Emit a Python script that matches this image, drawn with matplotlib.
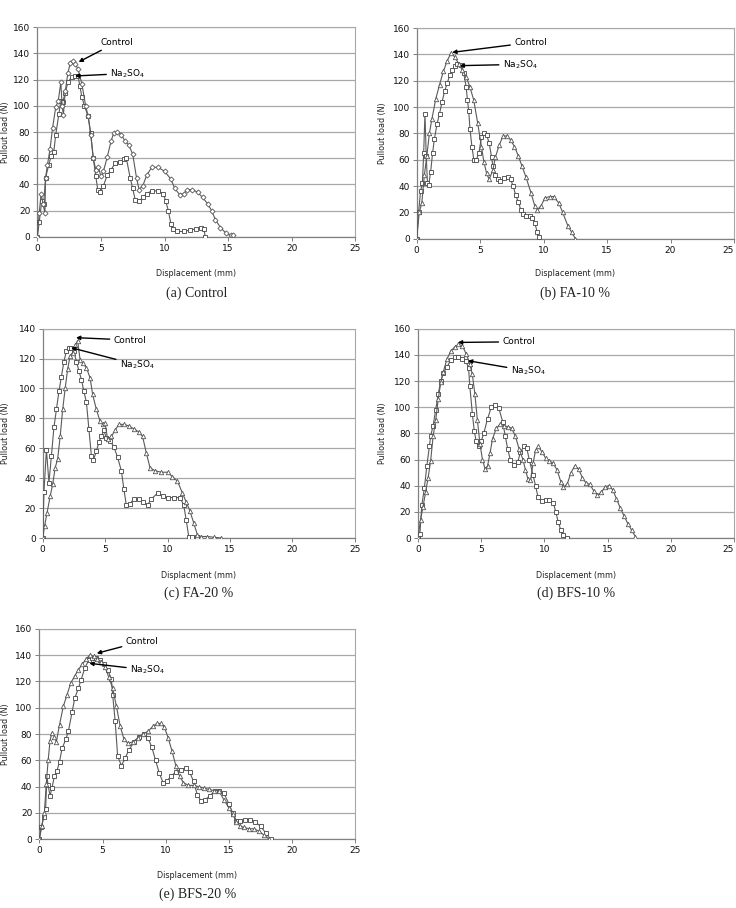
import matplotlib
matplotlib.use("Agg")
import matplotlib.pyplot as plt
import numpy as np

# ---------------- data ----------------
# (a) Control
a_ctrl_x = [0, 0.15, 0.3, 0.45, 0.6, 0.65, 0.8, 1.0, 1.2, 1.45, 1.65, 1.85, 1.95, 2.05, 2.2, 2.4, 2.6, 2.8, 3.0, 3.2, 3.5, 3.8, 4.0, 4.2, 4.4, 4.6, 4.8, 5.0, 5.2, 5.5, 5.8, 6.0, 6.3, 6.6, 6.9, 7.2, 7.5, 7.8, 8.0, 8.3, 8.6, 9.0, 9.5, 10.0, 10.5, 10.8, 11.2, 11.5, 11.8, 12.2, 12.6, 13.0, 13.4, 13.7, 14.0, 14.4, 14.8, 15.2, 15.4]
a_ctrl_y = [0, 18, 33, 25, 18, 45, 55, 67, 83, 99, 104, 118, 100, 93, 111, 125, 133, 134, 132, 128, 117, 100, 92, 78, 60, 51, 53, 46, 50, 61, 73, 79, 80, 78, 73, 70, 63, 45, 36, 39, 47, 53, 53, 50, 44, 37, 32, 33, 36, 36, 34, 30, 25, 20, 13, 7, 3, 1, 1]
a_na_x = [0, 0.15, 0.35, 0.5, 0.65, 0.9, 1.1, 1.3, 1.45, 1.7, 1.85, 2.0, 2.2, 2.4, 2.7, 3.0, 3.2, 3.35, 3.5, 3.7, 4.0, 4.2, 4.4, 4.6, 4.75, 4.95, 5.2, 5.5, 5.8, 6.1, 6.5, 6.8, 7.0, 7.3, 7.5, 7.7, 8.0, 8.3, 8.6, 9.0, 9.5, 9.9, 10.1, 10.3, 10.5, 10.7, 11.0, 11.5, 12.0, 12.5, 12.9, 13.1, 13.2]
a_na_y = [0, 11, 27, 25, 45, 55, 62, 65, 78, 94, 104, 103, 110, 118, 122, 123, 123, 115, 107, 100, 92, 79, 60, 46, 36, 34, 39, 47, 51, 56, 57, 59, 60, 45, 37, 28, 27, 30, 33, 35, 35, 33, 27, 20, 10, 6, 4, 4, 5, 6, 7, 6, 0]

# (b) FA-10 %
b_ctrl_x = [0, 0.2, 0.4, 0.6, 0.8, 1.0, 1.2, 1.5, 1.8, 2.1, 2.4, 2.7, 3.0, 3.3, 3.6, 3.9, 4.2, 4.5, 4.8, 5.1, 5.3, 5.5, 5.7, 6.0, 6.2, 6.5, 6.8, 7.1, 7.4, 7.7, 8.0, 8.3, 8.6, 9.0, 9.3, 9.5, 9.8, 10.1, 10.5, 10.8, 11.2, 11.5, 11.9, 12.2, 12.5]
b_ctrl_y = [0, 20, 27, 48, 63, 80, 91, 106, 117, 127, 135, 141, 138, 133, 128, 123, 115, 105, 88, 70, 58, 50, 45, 52, 62, 71, 78, 78, 75, 70, 63, 55, 47, 35, 25, 22, 25, 31, 32, 32, 27, 20, 10, 5, 0]
b_na_x = [0, 0.15, 0.3, 0.45, 0.55, 0.65, 0.75, 0.85, 0.95, 1.1, 1.25, 1.4, 1.6, 1.8, 2.0, 2.2, 2.4, 2.6, 2.8, 3.0, 3.2, 3.5, 3.7, 3.9, 4.0, 4.1, 4.2, 4.35, 4.5, 4.7, 4.9, 5.1, 5.3, 5.5, 5.7, 5.9, 6.0, 6.2, 6.4, 6.6, 6.9, 7.2, 7.4, 7.6, 7.8, 8.0, 8.2, 8.4, 8.6, 8.9, 9.1, 9.3, 9.5, 9.6]
b_na_y = [0, 20, 36, 42, 65, 95, 63, 42, 41, 51, 65, 76, 87, 95, 104, 112, 118, 124, 128, 131, 133, 132, 126, 115, 105, 97, 83, 70, 60, 60, 65, 77, 80, 79, 73, 62, 55, 48, 45, 44, 46, 47, 45, 40, 33, 28, 22, 19, 17, 17, 16, 12, 5, 1]

# (c) FA-20 %
c_ctrl_x = [0, 0.15, 0.35, 0.6, 0.8, 1.0, 1.2, 1.4, 1.6, 1.8, 2.0, 2.2, 2.4, 2.6, 2.8, 3.0, 3.2, 3.5, 3.8, 4.0, 4.3, 4.6, 4.8, 5.0, 5.2, 5.5, 5.8, 6.1, 6.5, 6.9, 7.3, 7.7, 8.0, 8.3, 8.6, 9.0, 9.5, 10.0, 10.4, 10.8, 11.2, 11.5, 11.8, 12.1, 12.4, 12.7, 13.2, 13.7, 14.3]
c_ctrl_y = [0, 8, 17, 28, 36, 47, 53, 68, 86, 100, 113, 122, 124, 129, 132, 119, 117, 114, 107, 96, 86, 78, 76, 77, 66, 68, 72, 76, 76, 75, 73, 71, 68, 57, 47, 45, 44, 44, 41, 38, 30, 24, 18, 10, 2, 1, 1, 0.5, 0]
c_na_x = [0, 0.1, 0.3, 0.5, 0.7, 0.9, 1.1, 1.3, 1.5, 1.7, 1.9, 2.1, 2.3, 2.5, 2.7, 2.9, 3.1, 3.3, 3.5, 3.7, 3.9, 4.05, 4.3, 4.5, 4.7, 4.9, 5.1, 5.4, 5.7, 6.0, 6.3, 6.5, 6.7, 7.0, 7.3, 7.7, 8.0, 8.4, 8.7, 9.2, 9.6, 10.0, 10.5, 11.0, 11.3, 11.5, 11.7, 12.0, 12.4]
c_na_y = [0, 31, 59, 37, 55, 74, 86, 98, 108, 118, 125, 127, 127, 125, 118, 112, 106, 98, 91, 73, 55, 52, 58, 64, 68, 72, 67, 65, 61, 54, 45, 33, 22, 23, 26, 26, 24, 22, 26, 30, 28, 27, 27, 27, 22, 12, 1, 1, 1]

# (d) BFS-10 %
d_ctrl_x = [0, 0.2, 0.4, 0.6, 0.8, 1.0, 1.2, 1.4, 1.6, 1.8, 2.0, 2.3, 2.6, 2.9, 3.2, 3.5, 3.8, 4.1, 4.3, 4.5, 4.7, 4.9, 5.1, 5.3, 5.5, 5.7, 5.9, 6.2, 6.5, 6.8, 7.1, 7.4, 7.7, 8.0, 8.3, 8.5, 8.7, 8.9, 9.1, 9.3, 9.5, 9.8, 10.1, 10.4, 10.7, 11.0, 11.3, 11.5, 11.8, 12.1, 12.4, 12.7, 13.0, 13.3, 13.6, 13.9, 14.2, 14.5, 14.8, 15.1, 15.4, 15.7, 16.0, 16.3, 16.6, 16.9, 17.2]
d_ctrl_y = [0, 14, 24, 35, 46, 59, 78, 90, 106, 119, 127, 137, 143, 146, 148, 147, 141, 133, 125, 110, 90, 72, 60, 53, 55, 65, 76, 84, 87, 86, 85, 84, 78, 68, 60, 52, 45, 44, 57, 67, 70, 66, 61, 59, 57, 52, 43, 39, 41, 50, 55, 53, 46, 42, 41, 36, 33, 35, 39, 40, 37, 30, 23, 17, 11, 6, 1]
d_na_x = [0, 0.15, 0.3, 0.5, 0.7, 0.9, 1.0, 1.2, 1.4, 1.6, 1.8, 2.0, 2.3, 2.6, 2.9, 3.2, 3.5, 3.8, 4.0, 4.1, 4.3, 4.45, 4.6, 4.8, 5.0, 5.2, 5.5, 5.8, 6.1, 6.4, 6.7, 6.9, 7.1, 7.3, 7.6, 7.9, 8.1, 8.4, 8.6, 8.8, 9.1, 9.3, 9.5, 9.8, 10.1, 10.4, 10.7, 10.9, 11.1, 11.3, 11.5, 11.8]
d_na_y = [0, 3, 25, 38, 55, 70, 78, 86, 98, 110, 120, 126, 131, 136, 138, 138, 137, 135, 130, 116, 95, 82, 74, 70, 74, 80, 91, 100, 102, 99, 89, 78, 68, 60, 56, 58, 66, 70, 69, 60, 48, 40, 31, 28, 29, 29, 27, 20, 12, 6, 2, 0]

# (e) BFS-20 %
e_ctrl_x = [0, 0.2, 0.4, 0.55, 0.7, 0.85, 1.0, 1.2, 1.35, 1.6, 1.9, 2.2, 2.5, 2.8, 3.1, 3.4, 3.7, 4.0, 4.3, 4.6, 4.9, 5.2, 5.5, 5.8, 6.1, 6.4, 6.7, 7.0, 7.4, 7.8, 8.2, 8.6, 9.0, 9.3, 9.6, 9.9, 10.2, 10.5, 10.8, 11.1, 11.4, 11.8, 12.2, 12.6, 13.0, 13.4, 13.8, 14.2, 14.6, 15.0, 15.3, 15.6, 15.9, 16.2, 16.6, 17.0, 17.4, 17.8, 18.2]
e_ctrl_y = [0, 10, 20, 42, 60, 75, 81, 78, 74, 87, 101, 110, 119, 124, 129, 133, 137, 140, 139, 137, 135, 131, 123, 115, 101, 86, 76, 73, 74, 77, 80, 82, 86, 88, 88, 85, 77, 67, 56, 48, 43, 41, 41, 40, 39, 38, 37, 37, 30, 24, 19, 13, 10, 9, 8, 8, 6, 3, 0]
e_na_x = [0, 0.15, 0.35, 0.5, 0.6, 0.7, 0.85, 1.0, 1.2, 1.4, 1.6, 1.8, 2.1, 2.3, 2.6, 2.8, 3.1, 3.3, 3.6, 3.9, 4.2, 4.5, 4.8, 5.1, 5.4, 5.7, 5.8, 6.0, 6.2, 6.5, 6.8, 7.1, 7.5, 7.9, 8.3, 8.6, 8.9, 9.2, 9.5, 9.8, 10.1, 10.4, 10.8, 11.2, 11.6, 11.9, 12.2, 12.5, 12.8, 13.1, 13.5, 13.9, 14.2, 14.6, 15.0, 15.3, 15.6, 15.9, 16.3, 16.7, 17.1, 17.5, 17.9, 18.3]
e_na_y = [0, 9, 17, 23, 48, 41, 33, 39, 48, 52, 59, 69, 76, 82, 97, 107, 115, 121, 130, 136, 138, 138, 136, 133, 129, 122, 110, 90, 63, 56, 62, 68, 74, 78, 80, 77, 70, 60, 50, 43, 44, 48, 51, 53, 54, 51, 44, 34, 29, 30, 33, 37, 37, 35, 27, 20, 14, 14, 15, 15, 13, 10, 5, 0]

captions = ["(a) Control", "(b) FA-10 %", "(c) FA-20 %", "(d) BFS-10 %", "(e) BFS-20 %"]
xlabels = ["Displacement (mm)", "Displacement (mm)", "Displacment (mm)", "Displacement (mm)", "Displacement (mm)"]
ylabel = "Pullout load (N)"
ymaxes = [160, 160, 140, 160, 160]
ctrl_markers = ["D", "^", "^", "^", "^"]
na_label = r"Na$_2$SO$_4$"

# annotation positions (text position, arrow head) in data coords
ann_ctrl = [((4.95, 148.5), (3.25, 133.5)), ((7.7, 149), (2.8, 141.5)), ((5.7, 132.4), (2.67, 134)),
            ((6.7, 150), (3.16, 149.5)), ((6.85, 150.4), (4.55, 141.3))]
ann_na = [((5.75, 124.8), (2.96, 122.8)), ((6.8, 132.4), (3.39, 131.4)), ((6.2, 115.7), (2.27, 127.3)),
          ((7.35, 127.6), (3.96, 135.5)), ((7.2, 128.6), (3.96, 133.7))]

# axes rectangles in pixels: left, right, top, bottom
W, H = 736, 908
rects = [(37.3, 355.3, 27.3, 236.7), (416.7, 734, 28, 238.7), (42.7, 354.7, 328.7, 538),
         (418, 734, 328.7, 538), (39.3, 355.3, 628.7, 839.3)]
ylab_px = [10.5, 387.5, 10.5, 387.5, 10.5]   # right edge of rotated y label, pixels
xlab_top_px = [269.5, 269.5, 570.5, 570.5, 871.5]
caption_y = [293.3, 293.3, 593, 593, 894]
at_right_edge = [False, True, False, True, False]

series = [(a_ctrl_x, a_ctrl_y, a_na_x, a_na_y), (b_ctrl_x, b_ctrl_y, b_na_x, b_na_y),
          (c_ctrl_x, c_ctrl_y, c_na_x, c_na_y), (d_ctrl_x, d_ctrl_y, d_na_x, d_na_y),
          (e_ctrl_x, e_ctrl_y, e_na_x, e_na_y)]

fig = plt.figure(figsize=(W / 100, H / 100), dpi=100)
fig.patch.set_facecolor("white")

line_col = "#5a5a5a"
for i, (l, r, t, b) in enumerate(rects):
    ax = fig.add_axes([l / W, 1 - b / H, (r - l) / W, (b - t) / H])
    cx, cy, nx, ny = series[i]
    ax.plot(nx, ny, color=line_col, lw=0.8, marker="s", ms=3.0, mfc="white", mec="#444444", mew=0.6, zorder=3)
    ms_c = 2.6 if ctrl_markers[i] == "D" else 3.2
    ax.plot(cx, cy, color=line_col, lw=0.8, marker=ctrl_markers[i], ms=ms_c, mfc="white", mec="#555555", mew=0.6, zorder=3)
    ax.set_xlim(0, 25)
    ax.set_ylim(0, ymaxes[i])
    ax.set_xticks(np.arange(0, 26, 5))
    ax.set_yticks(np.arange(0, ymaxes[i] + 1, 20))
    ax.grid(axis="y", color="#a8a8a8", lw=0.9)
    ax.set_axisbelow(True)
    for s in ["left", "bottom"]:
        ax.spines[s].set_color("#808080")
        ax.spines[s].set_linewidth(0.9)
    ax.spines["right"].set_color("#a8a8a8")
    ax.spines["top"].set_color("#a8a8a8")
    ax.tick_params(axis="both", labelsize=6.5, length=3, width=0.7, color="#808080", pad=2, labelcolor="#111111")
    if at_right_edge[i]:
        # keep the last tick label inside the figure
        fig.canvas.draw()
        ax.get_xticklabels()[-1].set_horizontalalignment("right")
    ax.set_xlabel(xlabels[i], fontsize=5.8, color="#222222")
    ax.xaxis.set_label_coords(0.5, -(xlab_top_px[i] - b) / (b - t))
    ax.set_ylabel(ylabel, fontsize=5.8, color="#222222")
    ax.yaxis.set_label_coords((ylab_px[i] - l) / (r - l), 0.5)
    (tx, ty), (hx, hy) = ann_ctrl[i]
    ax.annotate("Control", xy=(hx, hy), xytext=(tx, ty), fontsize=6.5, va="center", ha="left",
                arrowprops=dict(arrowstyle="-|>,head_length=0.35,head_width=0.18", color="black", lw=1.0,
                                shrinkA=1, shrinkB=0), zorder=5)
    (tx, ty), (hx, hy) = ann_na[i]
    ax.annotate(na_label, xy=(hx, hy), xytext=(tx, ty), fontsize=6.5, va="center", ha="left",
                arrowprops=dict(arrowstyle="-|>,head_length=0.35,head_width=0.18", color="black", lw=1.0,
                                shrinkA=1, shrinkB=0), zorder=5)
    fig.text((l + r) / 2 / W, 1 - caption_y[i] / H, captions[i], ha="center", va="center",
             fontsize=10, family="Liberation Serif", color="#222222")

fig.savefig("out.png", dpi=100, facecolor="white")
